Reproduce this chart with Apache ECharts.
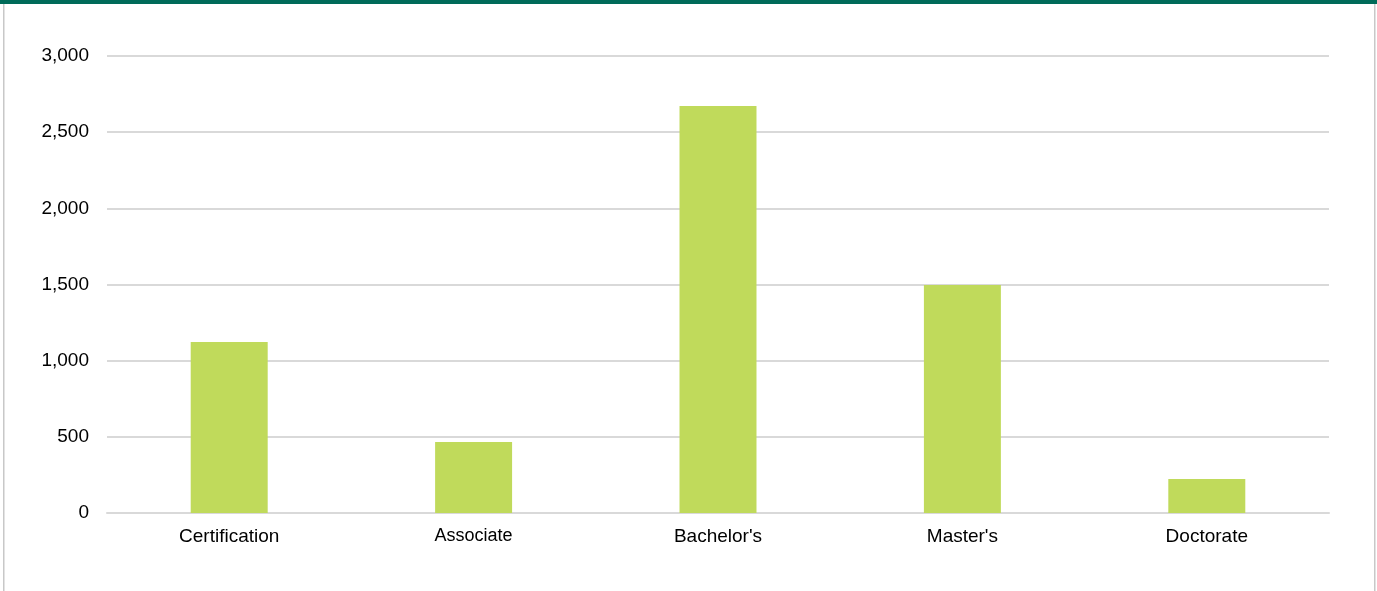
<!DOCTYPE html>
<html>
<head>
<meta charset="utf-8">
<script src="https://cdn.jsdelivr.net/npm/echarts@6/dist/echarts.min.js"></script>
<style>
html,body{margin:0;padding:0;background:#fff;}
#chart{width:1377px;height:591px;}
</style>
</head>
<body>
<div id="chart"></div>
<script>
const categories = ["Certification", "Associate", "Bachelor's", "Master's", "Doctorate"];
const values = [1122, 466, 2672, 1497, 223];
const yTicks = { min: 0, max: 3000, interval: 500 };

const chart = echarts.init(document.getElementById('chart'), null, { renderer: 'canvas' });
chart.setOption({
  animation: false,
  backgroundColor: '#ffffff',
  graphic: [
    { type: 'rect', left: 0, top: 0, shape: { width: 1377, height: 4 }, style: { fill: '#006b59' } },
    { type: 'rect', left: 3, top: 4, shape: { width: 1.5, height: 587 }, style: { fill: '#c8c8c8' } },
    { type: 'rect', left: 1374, top: 4, shape: { width: 1.5, height: 587 }, style: { fill: '#c8c8c8' } }
  ],
  grid: { left: 107, right: 48, top: 56, bottom: 78, containLabel: false },
  xAxis: {
    type: 'category',
    data: categories,
    axisLine: { show: true, lineStyle: { color: '#d9d9d9', width: 2 } },
    axisTick: { show: false },
    axisLabel: {
      margin: 14,
      color: '#000',
      fontFamily: 'Liberation Sans, Arial, sans-serif',
      fontSize: 19,
      formatter: function (v) { return v === 'Associate' ? '{s|' + v + '}' : v; },
      rich: { s: { fontSize: 18, color: '#000', fontFamily: 'Liberation Sans, Arial, sans-serif', padding: [0, 0, 4, 0] } }
    }
  },
  yAxis: {
    type: 'value',
    min: yTicks.min,
    max: yTicks.max,
    interval: yTicks.interval,
    axisLine: { show: false },
    axisTick: { show: false },
    splitLine: { lineStyle: { color: '#d9d9d9', width: 2 } },
    axisLabel: {
      margin: 18,
      color: '#000',
      fontFamily: 'Liberation Sans, Arial, sans-serif',
      fontSize: 19,
      padding: [4, 0, 0, 0],
      formatter: function (v) { return v.toLocaleString('en-US'); }
    }
  },
  series: [{
    type: 'bar',
    data: values,
    barWidth: '31.5%',
    itemStyle: { color: '#c0da5b' }
  }]
});
</script>
</body>
</html>
